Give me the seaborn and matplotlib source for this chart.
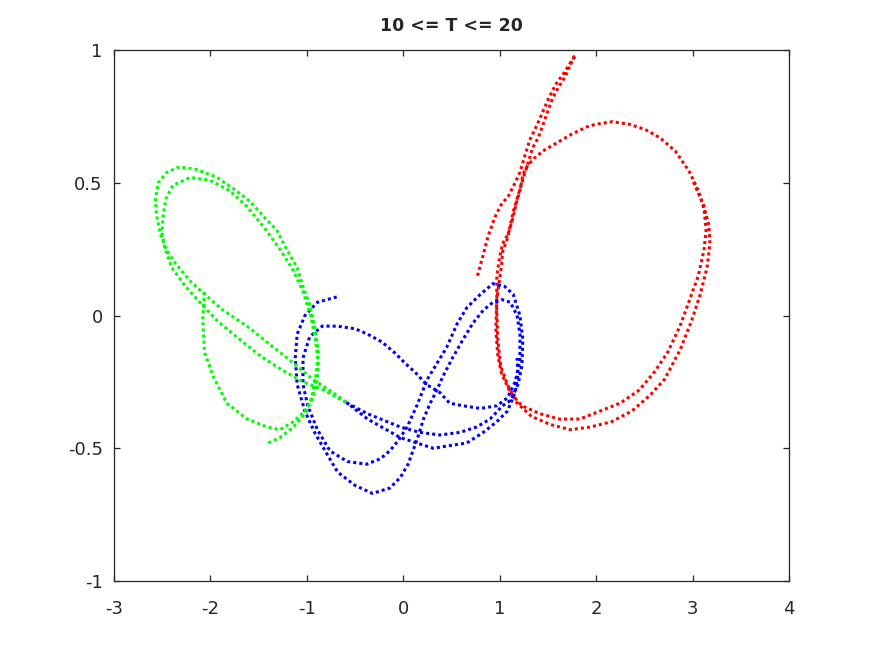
import numpy as np
import pandas as pd
import seaborn as sns
import matplotlib.pyplot as plt

# Trajectories of the three bodies (10 <= T <= 20)
red_x = [0.77, 0.83, 0.88, 0.95, 1.02, 1.09, 1.16, 1.21, 1.26, 1.31, 1.39,
         1.45, 1.51, 1.58, 1.66, 1.73, 1.79,
         1.77, 1.68, 1.61, 1.55, 1.50, 1.45, 1.40, 1.34, 1.29, 1.23, 1.18,
         1.14, 1.11, 1.08, 1.03, 1.02, 1.00, 0.97,
         0.96, 0.98, 1.02, 1.11, 1.23, 1.42, 1.62, 1.83, 2.04, 2.25, 2.45,
         2.61, 2.74, 2.87, 2.97, 3.06, 3.12, 3.14, 3.12, 3.06, 2.97, 2.82,
         2.66, 2.51, 2.35, 2.17, 1.99, 1.90, 1.73, 1.59, 1.45, 1.35, 1.28,
         1.24, 1.21, 1.17, 1.14, 1.09, 1.03, 1.00, 0.97,
         0.97, 0.98, 1.01, 1.08, 1.18, 1.33, 1.52, 1.73,
         1.94, 2.16, 2.37, 2.56, 2.71, 2.87, 2.99, 3.08, 3.15, 3.18, 3.17,
         3.11, 3.00]
red_y = [0.15, 0.23, 0.30, 0.37, 0.42, 0.45, 0.50, 0.54, 0.60, 0.66, 0.72,
         0.77, 0.82, 0.87, 0.91, 0.95, 0.98,
         0.975, 0.90, 0.86, 0.82, 0.77, 0.72, 0.67, 0.63, 0.57, 0.50, 0.44,
         0.39, 0.34, 0.29, 0.24, 0.19, 0.14, 0.06,
         -0.05, -0.15, -0.22, -0.29, -0.34, -0.37, -0.39, -0.39, -0.36, -0.33, -0.28,
         -0.21, -0.14, -0.04, 0.06, 0.15, 0.25, 0.32, 0.40, 0.47, 0.54, 0.62,
         0.67, 0.70, 0.72, 0.73, 0.72, 0.71, 0.68, 0.65, 0.62, 0.59, 0.56,
         0.53, 0.47, 0.42, 0.37, 0.31, 0.27, 0.22, 0.15,
         0.02, -0.09, -0.19, -0.26, -0.33, -0.38, -0.41, -0.43,
         -0.42, -0.40, -0.36, -0.30, -0.24, -0.13, -0.02, 0.08, 0.18, 0.27, 0.34,
         0.42, 0.51]

blue_x = [-0.69, -0.89, -1.02, -1.10, -1.12, -1.10, -1.02, -0.92, -0.81, -0.68,
          -0.50, -0.32, -0.14, -0.03, 0.05, 0.10, 0.15, 0.21, 0.28, 0.35, 0.41,
          0.51, 0.62, 0.72, 0.83, 0.93, 1.02, 1.11, 1.18, 1.21, 1.21, 1.16,
          1.08, 0.97, 0.80, 0.62, 0.48, 0.38, 0.24, 0.14, 0.02, -0.09, -0.22,
          -0.37, -0.50, -0.68, -0.84, -0.97, -1.04, -1.04, -0.99, -0.89, -0.76,
          -0.58, -0.38, -0.24, -0.14, -0.05, 0.04, 0.14, 0.25, 0.35, 0.45,
          0.56, 0.66, 0.80, 0.93, 1.05, 1.14, 1.21, 1.24, 1.23, 1.19, 1.11,
          1.03, 0.90, 0.76, 0.59, 0.38, 0.17, -0.03, -0.37, -0.58, -0.37,
          -0.03, 0.14, 0.31, 0.48, 0.66, 0.83, 0.97, 1.08, 1.16, 1.19, 1.18]
blue_y = [0.07, 0.05, 0.00, -0.07, -0.16, -0.26, -0.36, -0.44, -0.51, -0.59,
          -0.64, -0.67, -0.65, -0.61, -0.56, -0.51, -0.46, -0.39, -0.33, -0.28, -0.23,
          -0.16, -0.09, -0.03, 0.02, 0.05, 0.06, 0.05, 0.00, -0.07, -0.17, -0.25,
          -0.31, -0.34, -0.35, -0.34, -0.33, -0.29, -0.26, -0.22, -0.18, -0.14, -0.10,
          -0.07, -0.05, -0.04, -0.04, -0.08, -0.16, -0.26, -0.34, -0.43, -0.51,
          -0.55, -0.56, -0.54, -0.51, -0.47, -0.42, -0.34, -0.24, -0.18, -0.12,
          -0.03, 0.03, 0.08, 0.12, 0.11, 0.08, 0.00, -0.09, -0.19, -0.26, -0.32,
          -0.34, -0.39, -0.42, -0.44, -0.45, -0.44, -0.42, -0.37, -0.33, -0.39,
          -0.46, -0.48, -0.50, -0.49, -0.48, -0.44, -0.40, -0.36, -0.29, -0.22, -0.16]

green_x = [-1.40, -1.28, -1.14, -1.02, -0.95, -0.91, -0.88, -0.92, -0.97, -1.04,
           -1.10, -1.21, -1.31, -1.44, -1.59, -1.77, -1.93, -2.14, -2.32, -2.45,
           -2.54, -2.57, -2.56, -2.52, -2.46, -2.37, -2.21, -2.06, -1.87, -1.62,
           -1.38, -1.17, -0.94, -0.73, -0.58, -0.83, -1.04, -1.28, -1.49, -1.73,
           -1.93, -2.11, -2.26, -2.40, -2.47, -2.50, -2.49, -2.46, -2.39, -2.21,
           -2.01, -1.80, -1.62, -1.44, -1.28, -1.14, -1.04, -0.96, -0.91, -0.88,
           -0.90, -0.95, -1.02, -1.14, -1.28, -1.41, -1.62, -1.83, -1.97, -2.06,
           -2.08, -2.06]
green_y = [-0.48, -0.46, -0.42, -0.37, -0.31, -0.24, -0.14, -0.04, 0.04, 0.11,
           0.18, 0.25, 0.32, 0.37, 0.43, 0.48, 0.52, 0.55, 0.56, 0.54,
           0.50, 0.44, 0.38, 0.31, 0.25, 0.20, 0.13, 0.08, 0.02, -0.04,
           -0.11, -0.17, -0.24, -0.29, -0.33, -0.28, -0.25, -0.20, -0.15, -0.08,
           -0.02, 0.05, 0.11, 0.18, 0.25, 0.31, 0.38, 0.44, 0.49, 0.52,
           0.51, 0.47, 0.41, 0.33, 0.25, 0.17, 0.09, 0.00, -0.09, -0.19,
           -0.26, -0.32, -0.36, -0.40, -0.43, -0.42, -0.39, -0.33, -0.23, -0.14,
           -0.02, 0.10]

bodies = {'red': (red_x, red_y, '#ff0000'),
          'blue': (blue_x, blue_y, '#0000ff'),
          'green': (green_x, green_y, '#00ff00')}

x_ticks = [-3, -2, -1, 0, 1, 2, 3, 4]
y_ticks = [-1, -0.5, 0, 0.5, 1]
y_tick_labels = ['-1', '-0.5', '0', '0.5', '1']

sns.set_theme(style='white')
plt.rcParams['font.family'] = ['DejaVu Sans']

fig = plt.figure(figsize=(8.72, 6.54), dpi=100)
ax = fig.add_axes([0.1307, 0.1116, 0.7741, 0.8119])

for name, (xs, ys, col) in bodies.items():
    df = pd.DataFrame({'x': xs, 'y': ys})
    sns.lineplot(data=df, x='x', y='y', sort=False, estimator=None,
                 color=col, linewidth=2.2, ax=ax)
    ax.lines[-1].set_linestyle((0, (1, 1)))

ax.set_xlim(-3, 4)
ax.set_ylim(-1, 1)
ax.set_xticks(x_ticks)
ax.set_xticklabels([str(t) for t in x_ticks])
ax.set_yticks(y_ticks)
ax.set_yticklabels(y_tick_labels)
ax.set_xlabel('')
ax.set_ylabel('')

for s in ax.spines.values():
    s.set_color('#262626')
    s.set_linewidth(0.9)
ax.tick_params(axis='both', direction='in', length=4.5, width=0.9,
               color='#262626', labelcolor='#262626', labelsize=13,
               top=True, right=True, bottom=True, left=True)
ax.tick_params(axis='x', pad=14)
ax.tick_params(axis='y', pad=8)

ax.set_title('10 <= T <= 20', fontsize=12.5, fontweight='bold', pad=14)

fig.savefig('out.png', dpi=100)
